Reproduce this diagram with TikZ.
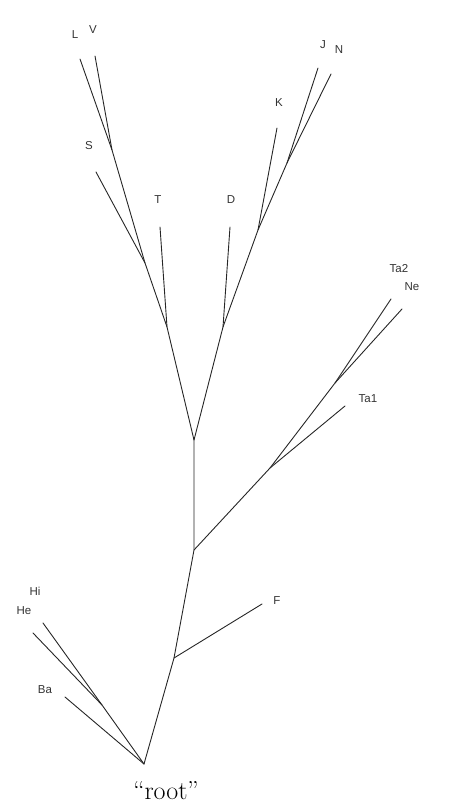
\documentclass[tikz,border=0pt]{standalone}
\usepackage{fontspec}
\newfontfamily\labelfont{Liberation Sans}
\begin{document}
\begin{tikzpicture}[x=1pt,y=-1pt,
  branch/.style={draw=black!85,line width=0.9pt,line cap=round,line join=round},
  leaflabel/.style={font=\labelfont\fontsize{11.5}{12}\selectfont,text=black!80,inner sep=0pt}]
\useasboundingbox (0,0) rectangle (448,805);
% inner vertices
\coordinate (R) at (144,764);
\coordinate (HH) at (102,705);
\coordinate (JF) at (174,658);
\coordinate (J1) at (194,550);
\coordinate (JTa) at (270,468);
\coordinate (JTN) at (335,383);
\coordinate (J2) at (194,440);
\coordinate (LT) at (167,327);
\coordinate (LS) at (145,263);
\coordinate (LV) at (112,150);
\coordinate (RD) at (223,327);
\coordinate (RK) at (258,230);
\coordinate (JN) at (287,163);
% leaves
\coordinate (eBa) at (65,697);
\coordinate (eHi) at (43,623);
\coordinate (eHe) at (33,633);
\coordinate (eF) at (262,604);
\coordinate (eTa1) at (345,406);
\coordinate (eTa2) at (391,299);
\coordinate (eNe) at (402,309);
\coordinate (eT) at (160,227);
\coordinate (eS) at (96,172);
\coordinate (eL) at (80,59);
\coordinate (eV) at (95,56);
\coordinate (eD) at (230,227);
\coordinate (eK) at (277,128);
\coordinate (eJ) at (318,68);
\coordinate (eN) at (331,74);
% edges
\draw[branch] (R) -- (HH) -- (eHi);
\draw[branch] (HH) -- (eHe);
\draw[branch] (R) -- (eBa);
\draw[branch] (R) -- (JF) -- (J1) -- (J2);
\draw[branch] (JF) -- (eF);
\draw[branch] (J1) -- (JTa) -- (JTN) -- (eTa2);
\draw[branch] (JTN) -- (eNe);
\draw[branch] (JTa) -- (eTa1);
\draw[branch] (J2) -- (LT) -- (LS) -- (LV) -- (eL);
\draw[branch] (LV) -- (eV);
\draw[branch] (LS) -- (eS);
\draw[branch] (LT) -- (eT);
\draw[branch] (J2) -- (RD) -- (RK) -- (JN) -- (eJ);
\draw[branch] (JN) -- (eN);
\draw[branch] (RK) -- (eK);
\draw[branch] (RD) -- (eD);
% labels
\node[leaflabel] (lL) at (75,35) {L};
\node[leaflabel] (lV) at (93,30) {V};
\node[leaflabel] (lS) at (89,146) {S};
\node[leaflabel] (lT) at (158,200) {T};
\node[leaflabel] (lD) at (231,200) {D};
\node[leaflabel] (lK) at (279,103) {K};
\node[leaflabel] (lJ) at (323,45) {J};
\node[leaflabel] (lN) at (339,50) {N};
\node[leaflabel] (lTa2) at (399,269) {Ta2};
\node[leaflabel] (lNe) at (412,287) {Ne};
\node[leaflabel] (lTa1) at (368,399) {Ta1};
\node[leaflabel] (lF) at (277,601) {F};
\node[leaflabel] (lHi) at (35,591) {Hi};
\node[leaflabel] (lHe) at (24,611) {He};
\node[leaflabel] (lBa) at (45,690) {Ba};
\node[anchor=base,inner sep=0pt,font=\fontsize{26}{28}\selectfont] (lroot) at (166,799) {``root''};
\end{tikzpicture}
\end{document}
